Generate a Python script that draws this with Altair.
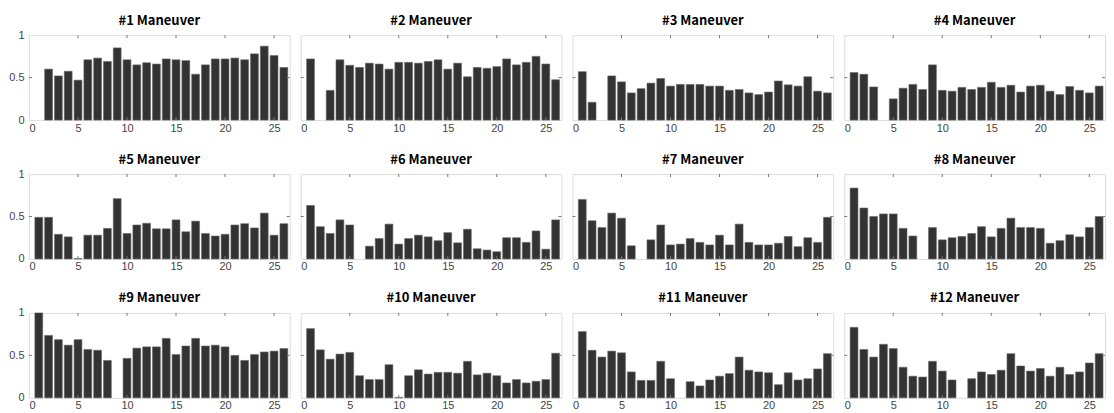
import altair as alt
import pandas as pd

p1 = [0, 0.60, 0.52, 0.575, 0.47, 0.71, 0.73, 0.69, 0.85, 0.71, 0.65, 0.675, 0.66, 0.72, 0.71, 0.70, 0.54, 0.65, 0.72, 0.72, 0.73, 0.71, 0.78, 0.87, 0.76, 0.62]
p2 = [0.72, 0, 0.35, 0.71, 0.645, 0.62, 0.67, 0.66, 0.60, 0.68, 0.68, 0.67, 0.69, 0.71, 0.60, 0.67, 0.51, 0.62, 0.61, 0.63, 0.72, 0.65, 0.68, 0.75, 0.66, 0.475]
p3 = [0.57, 0.21, 0, 0.52, 0.45, 0.32, 0.37, 0.435, 0.49, 0.40, 0.42, 0.42, 0.42, 0.40, 0.40, 0.35, 0.36, 0.32, 0.30, 0.33, 0.46, 0.415, 0.40, 0.51, 0.34, 0.32]
p4 = [0.56, 0.54, 0.39, 0, 0.25, 0.375, 0.42, 0.36, 0.65, 0.35, 0.34, 0.385, 0.36, 0.385, 0.445, 0.385, 0.41, 0.33, 0.40, 0.41, 0.34, 0.30, 0.395, 0.35, 0.32, 0.40]
p5 = [0.49, 0.49, 0.29, 0.26, 0.005, 0.28, 0.28, 0.36, 0.71, 0.30, 0.40, 0.42, 0.355, 0.355, 0.46, 0.32, 0.445, 0.30, 0.27, 0.29, 0.40, 0.415, 0.365, 0.54, 0.28, 0.415]
p6 = [0.63, 0.38, 0.30, 0.46, 0.40, 0, 0.15, 0.24, 0.41, 0.175, 0.24, 0.28, 0.26, 0.215, 0.31, 0.19, 0.35, 0.12, 0.105, 0.085, 0.25, 0.25, 0.195, 0.33, 0.115, 0.46]
p7 = [0.70, 0.45, 0.37, 0.54, 0.48, 0.155, 0, 0.225, 0.40, 0.165, 0.175, 0.24, 0.195, 0.165, 0.28, 0.165, 0.41, 0.195, 0.165, 0.165, 0.185, 0.265, 0.145, 0.25, 0.195, 0.49]
p8 = [0.835, 0.60, 0.50, 0.53, 0.53, 0.36, 0.27, 0, 0.37, 0.225, 0.25, 0.265, 0.30, 0.38, 0.26, 0.36, 0.48, 0.37, 0.37, 0.36, 0.185, 0.215, 0.285, 0.26, 0.37, 0.50]
p9 = [1.0, 0.735, 0.685, 0.62, 0.685, 0.57, 0.56, 0.44, 0, 0.465, 0.585, 0.60, 0.60, 0.70, 0.51, 0.61, 0.70, 0.61, 0.62, 0.60, 0.50, 0.44, 0.51, 0.54, 0.55, 0.58]
p10 = [0.815, 0.565, 0.455, 0.515, 0.535, 0.26, 0.215, 0.215, 0.39, 0.005, 0.26, 0.33, 0.28, 0.30, 0.30, 0.29, 0.43, 0.27, 0.29, 0.26, 0.175, 0.215, 0.175, 0.195, 0.215, 0.525]
p11 = [0.78, 0.56, 0.48, 0.55, 0.53, 0.305, 0.205, 0.205, 0.43, 0.225, 0, 0.19, 0.14, 0.21, 0.255, 0.285, 0.48, 0.325, 0.305, 0.295, 0.155, 0.295, 0.21, 0.225, 0.34, 0.52]
p12 = [0.83, 0.57, 0.48, 0.63, 0.58, 0.36, 0.255, 0.245, 0.43, 0.315, 0.21, 0, 0.225, 0.305, 0.275, 0.325, 0.52, 0.375, 0.315, 0.345, 0.255, 0.36, 0.275, 0.305, 0.41, 0.52]

panels = [p1, p2, p3, p4, p5, p6, p7, p8, p9, p10, p11, p12]
titles = [f"#{i} Maneuver" for i in range(1, 13)]
x_ticks = [0, 5, 10, 15, 20, 25]
y_ticks = [0, 0.5, 1]

rows = []
for t, vals in zip(titles, panels):
    for i, v in enumerate(vals, start=1):
        rows.append({"panel": t, "idx": i, "value": v})
df = pd.DataFrame(rows)

W, H = 261, 85
label_font = "Liberation Sans"

xscale = alt.Scale(domain=[0, 26.6], nice=False, zero=False)
yscale = alt.Scale(domain=[0, 1], nice=False)
xaxis = alt.Axis(values=x_ticks, title=None, domain=False, ticks=False, grid=False,
                 labelFont=label_font, labelFontSize=11, labelColor="#444", labelPadding=2)
yaxis = alt.Axis(values=y_ticks, title=None, domain=False, ticks=False, grid=False, format="~g",
                 labelFont=label_font, labelFontSize=11, labelColor="#444", labelPadding=4)

base = alt.Chart()

bars = base.mark_bar(fill="#333333", stroke="#666666", strokeWidth=0.6).encode(
    x=alt.X("lo:Q", scale=xscale, axis=xaxis),
    x2="hi:Q",
    y=alt.Y("value:Q", scale=yscale, axis=yaxis),
    y2=alt.datum(0),
).transform_filter("datum.value > 0").transform_calculate(lo="datum.idx - 0.4", hi="datum.idx + 0.4")

tick_bottom = base.mark_rule(color="#777777", strokeWidth=1).encode(
    x=alt.X("idx:Q", scale=xscale, axis=xaxis),
    y=alt.value(H), y2=alt.value(H - 3),
).transform_filter("datum.idx % 5 == 0")

tick_top = base.mark_rule(color="#777777", strokeWidth=1).encode(
    x=alt.X("idx:Q", scale=xscale, axis=xaxis),
    y=alt.value(0), y2=alt.value(3),
).transform_filter("datum.idx % 5 == 0")

tick_left = base.mark_rule(color="#777777", strokeWidth=1).encode(
    y=alt.Y("mid:Q", scale=yscale, axis=yaxis),
    x=alt.value(0), x2=alt.value(3),
).transform_filter("datum.idx == 1").transform_calculate(mid="0.5")

tick_right = base.mark_rule(color="#777777", strokeWidth=1).encode(
    y=alt.Y("mid:Q", scale=yscale, axis=yaxis),
    x=alt.value(W - 3), x2=alt.value(W),
).transform_filter("datum.idx == 1").transform_calculate(mid="0.5")

layer = alt.layer(bars, tick_bottom, tick_top, tick_left, tick_right).properties(width=W, height=H)

chart = layer.facet(
    facet=alt.Facet("panel:N", sort=titles,
                    header=alt.Header(title=None, labelFont="Noto Sans CJK KR", labelFontWeight="bold",
                                      labelFontSize=13, labelColor="#000", labelPadding=7)),
    columns=4,
    data=df,
    spacing={"row": 19, "column": 9},
).resolve_axis(x="independent").configure_view(
    stroke="#999999", strokeWidth=1
).configure(background="white", padding={"top": 6, "left": 0, "right": 0, "bottom": 0})

chart.save("out.html", embed_options={"renderer": "svg", "actions": False})
